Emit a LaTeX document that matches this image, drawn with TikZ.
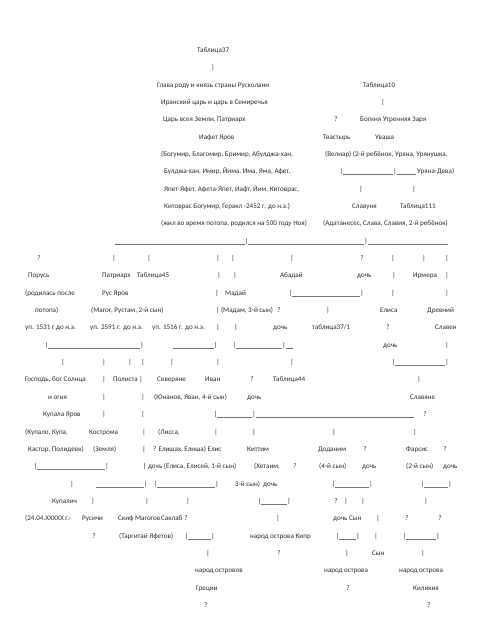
\documentclass[tikz,border=0pt]{standalone}
\usepackage{fontspec}
\setmainfont{Carlito}
\newcounter{tnum}
\newcommand\rowy[1]{-(50+17.35*#1+2.3)}
\newcommand\tx[3]{\stepcounter{tnum}\node[txt] (n\arabic{tnum}) at (#1pt,{\rowy{#2}*1pt}) {#3};}
\newcommand\pp[2]{\stepcounter{tnum}\node[txt,anchor=base] (n\arabic{tnum}) at (#1pt,{\rowy{#2}*1pt}) {|};}
\newcommand\qq[2]{\stepcounter{tnum}\node[txt,anchor=base] (n\arabic{tnum}) at (#1pt,{\rowy{#2}*1pt}) {?};}
\newcommand\ul[1]{{\color{black!55}\rule[-0.9pt]{#1pt}{0.3pt}}}
\begin{document}
\begin{tikzpicture}[x=1pt,y=1pt,
  txt/.style={font=\fontsize{7.1}{8}\selectfont, inner sep=0pt, anchor=base west, text=black!82}]
\useasboundingbox (0,0) rectangle (504,-630);
\fill[white] (0,0) rectangle (504,-630);
% row 0-1
\tx{197}{0}{Таблица37}
\pp{213}{1}
% row 2
\tx{157}{2}{Глава роду и князь страны Русколани}
\tx{363}{2}{Таблица10}
% row 3
\tx{161}{3}{Иранский царь и царь в Семиречья}
\pp{383}{3}
% row 4
\tx{163}{4}{Царь всея Земли, Патриарх}
\qq{336}{4}
\tx{360}{4}{Богиня Утренняя Заря}
% row 5
\tx{199}{5}{Иафет Яров}
\tx{323}{5}{Твастырь}
\tx{375}{5}{Уваша}
% row 6
\tx{161}{6}{(Богумир, Благомир, Бримир, Абулджа-хан,}
\tx{325}{6}{(Велиар) (2-й ребёнок, Уряна, Урянушка,}
% row 7
\tx{164}{7}{Булджа-хан, Имир, Йима, Има, Яма, Афет,}
\tx{340}{7}{|\ul{50}|\ul{19}}
\tx{417}{7}{Уряна-Дева)}
% row 8
\tx{164}{8}{Япет-Яфет, Афета-Япет, Иафт, Йим, Китоврас,}
\pp{361}{8}
\pp{414}{8}
% row 9
\tx{164}{9}{Китоврас Богумир, Геракл -2452 г. до н.э.)}
\tx{352}{9}{Славуня}
\tx{400}{9}{Таблица111}
% row 10
\tx{161}{10}{(жил во время потопа, родился на 500 году Ноя)}
\tx{323}{10}{(Адатанесес, Слава, Славия, 2-й ребёнок)}
% row 11
\tx{115}{11}{\ul{130}|\ul{116}|\ul{80}}
% row 12
\qq{39}{12}
\pp{114}{12}\pp{149}{12}\pp{218}{12}\pp{233}{12}\pp{292}{12}
\qq{362}{12}
\pp{393}{12}\pp{424}{12}\pp{447}{12}
% row 13
\tx{28}{13}{Порусь}
\tx{102}{13}{Патриарх}
\tx{137}{13}{Таблица45}
\pp{219}{13}\pp{235}{13}
\tx{280}{13}{Абадай}
\tx{357}{13}{дочь}
\pp{394}{13}
\tx{413}{13}{Ирмера}
\pp{447}{13}
% row 14
\tx{25}{14}{(родилась после}
\tx{102}{14}{Рус Яров}
\pp{217}{14}
\tx{225}{14}{Мадай}
\tx{289}{14}{|\ul{68}|}
\pp{393}{14}\pp{447}{14}
% row 15
\tx{35}{15}{потопа)}
\tx{91}{15}{(Магог, Рустам, 2-й сын)}
\tx{216}{15}{| (Мадам, 3-й сын)}
\qq{279}{15}
\pp{328}{15}
\tx{380}{15}{Елиса}
\tx{427}{15}{Древний}
% row 16
\tx{25}{16}{уп. 1531 г до н.э.}
\tx{90}{16}{уп. 2591 г. до н.э.}
\tx{152}{16}{уп. 1516 г. до н.э.}
\pp{218}{16}\pp{236}{16}
\tx{273}{16}{дочь}
\tx{312}{16}{таблица37/1}
\qq{388}{16}
\tx{435}{16}{Славен}
% row 17
\tx{45}{17}{|\ul{92}|}
\tx{173}{17}{\ul{41}|}
\tx{233}{17}{|\ul{46}|\ul{7}}
\tx{383}{17}{дочь}
\pp{447}{17}
% row 18
\pp{63}{18}\pp{104}{18}\pp{130}{18}\pp{143}{18}\pp{172}{18}\pp{218}{18}\pp{292}{18}
\tx{392}{18}{|\ul{50}|}
% row 19
\tx{25}{19}{Господь, бог Солнца}
\pp{104}{19}
\tx{113}{19}{Полиста |}
\tx{157}{19}{Северяне}
\tx{205}{19}{Иван}
\qq{252}{19}
\tx{273}{19}{Таблица44}
\pp{419}{19}
% row 20
\tx{48}{20}{и огня}
\pp{104}{20}\pp{143}{20}
\tx{154}{20}{(Юнанов, Яван, 4-й сын)}
\tx{247}{20}{дочь}
\tx{410}{20}{Славяне}
% row 21
\tx{43}{21}{Купала Яров}
\pp{104}{21}\pp{143}{21}
\tx{214}{21}{|\ul{35}|\ul{158}}
\qq{425}{21}
% row 22
\tx{25}{22}{(Купало, Купа,}
\tx{89}{22}{Кострома}
\pp{144}{22}
\tx{158}{22}{(Лисса,}
\pp{216}{22}\pp{254}{22}\pp{334}{22}\pp{415}{22}
% row 23
\tx{28}{23}{Кастор, Полидевк)}
\tx{93}{23}{(Земля)}
\pp{144}{23}
\tx{153}{23}{? Елишах, Елиша) Елис}
\tx{247}{23}{Киттим}
\tx{318}{23}{Доданим}
\qq{365}{23}
\tx{406}{23}{Фарсис}
\qq{445}{23}
% row 24
\tx{34}{24}{|\ul{68}|}
\tx{143}{24}{| дочь (Елиса, Елисей, 1-й сын)}
\tx{254}{24}{(Хетаим,}
\qq{295}{24}
\tx{319}{24}{(4-й сын)}
\tx{362}{24}{дочь}
\tx{406}{24}{(2-й сын)}
\tx{443}{24}{дочь}
% row 25
\pp{72}{25}
\tx{96}{25}{\ul{48}|}
\tx{154}{25}{|\ul{58}|}
\tx{235}{25}{3-й сын)}
\tx{263}{25}{дочь}
\tx{332}{25}{|\ul{34}|}
\tx{421}{25}{|\ul{24}|}
% row 26
\tx{52}{26}{Купалич}
\pp{93}{26}\pp{147}{26}\pp{188}{26}
\tx{258}{26}{|\ul{26}|}
\qq{336}{26}
\pp{346}{26}\pp{363}{26}\pp{426}{26}
% row 27
\tx{25}{27}{(24.04.XXXXX г.-}
\tx{82}{27}{Русичи}
\tx{118}{27}{Скиф Магогов}
\tx{161}{27}{Саклаб}
\qq{186}{27}
\pp{278}{27}
\tx{333}{27}{дочь Сын}
\pp{378}{27}
\qq{407}{27}
\qq{440}{27}
% row 28
\qq{94}{28}
\tx{119}{28}{(Таргитай Яфетов)}
\tx{185}{28}{|\ul{23}|}
\tx{250}{28}{народ острова Кипр}
\tx{336}{28}{|\ul{17}|}
\pp{376}{28}
\tx{403}{28}{|\ul{30}|}
% row 29
\pp{208}{29}
\qq{279}{29}
\pp{347}{29}
\tx{372}{29}{Сын}
\pp{423}{29}
% row 30
\tx{195}{30}{народ островов}
\tx{324}{30}{народ острова}
\tx{399}{30}{народ острова}
% row 31
\tx{196}{31}{Греции}
\qq{348}{31}
\tx{413}{31}{Киликия}
% row 32
\qq{206}{32}
\qq{429}{32}
\end{tikzpicture}
\end{document}
